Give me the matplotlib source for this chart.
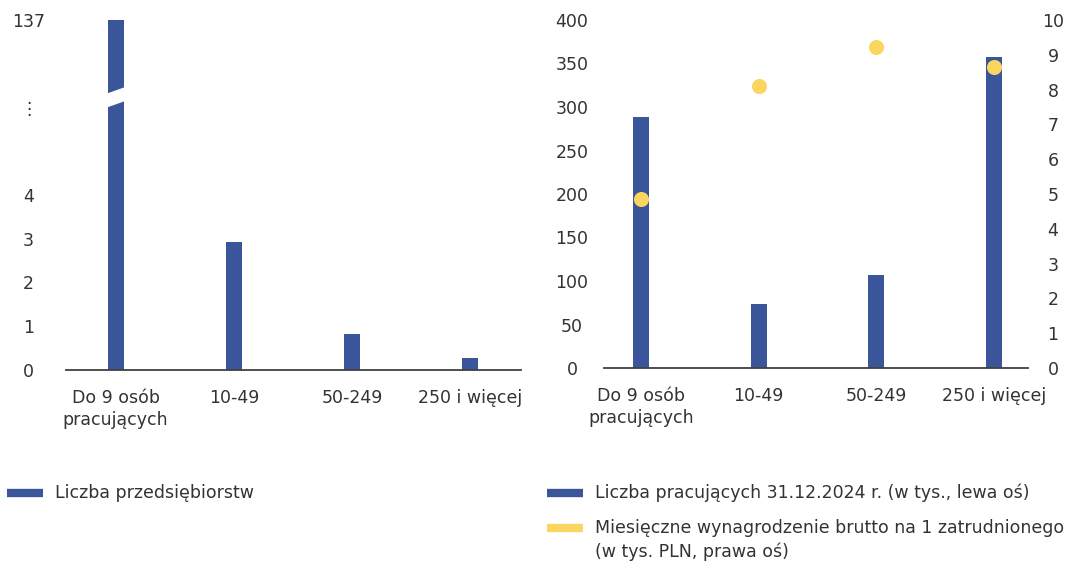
import numpy as np
import matplotlib
matplotlib.use("Agg")
import matplotlib.pyplot as plt
from matplotlib.lines import Line2D
from matplotlib.patches import Polygon

plt.rcParams['font.family'] = ['DejaVu Sans']
plt.rcParams['font.size'] = 12.5
plt.rcParams['text.color'] = '#333333'
plt.rcParams['xtick.color'] = '#333333'
plt.rcParams['ytick.color'] = '#333333'

# data
categories = ['Do 9 osób\npracujących', '10-49', '50-249', '250 i więcej']
firms = [137, 2.93, 0.83, 0.27]              # liczba przedsiębiorstw
employed = [289, 74, 107, 357]               # tys. osób, 31.12.2024
wages = [4.87, 8.10, 9.22, 8.65]             # tys. PLN brutto / miesiąc

left_ticks = [0, 1, 2, 3, 4, 49, 137]
left_ticklabels = ['0', '1', '2', '3', '4', '⋮', '137']
right_ticks = [0, 50, 100, 150, 200, 250, 300, 350, 400]
wage_ticks = list(range(0, 11))

BLUE = '#3a5599'
YELLOW = '#fad560'
AXIS = '#404040'
BAR_W = 0.136

# broken axis: linear up to 5, above that squeezed 44x
def fwd(v):
    v = np.asarray(v, dtype=float)
    return np.where(v <= 5, v, 5 + (v - 5) / 44.0)


def inv(u):
    u = np.asarray(u, dtype=float)
    return np.where(u <= 5, u, 5 + (u - 5) * 44.0)


W, H = 1080, 565
fig = plt.figure(figsize=(W / 100, H / 100), dpi=100)

def px_axes(x0, x1, y_top, y_bot):
    return fig.add_axes([x0 / W, (H - y_bot) / H, (x1 - x0) / W, (y_bot - y_top) / H])


def style_axes(ax):
    for s in ['top', 'right', 'left']:
        ax.spines[s].set_visible(False)
    ax.spines['bottom'].set_color(AXIS)
    ax.spines['bottom'].set_linewidth(1.3)
    ax.tick_params(axis='both', length=0)
    ax.tick_params(axis='x', pad=14)


x = np.arange(len(categories))

# left panel: number of enterprises
ax1 = px_axes(66, 521, 14, 370)
ax1.set_yscale('function', functions=(fwd, inv))
ax1.bar(x, firms, width=BAR_W, color=BLUE, zorder=2)
ax1.set_xlim(-0.42, 3.43)
ax1.set_ylim(0, float(inv(8.13)))
ax1.set_xticks(x, categories, linespacing=1.25)
ax1.set_yticks(left_ticks, left_ticklabels)
style_axes(ax1)
ax1.tick_params(axis='y', pad=27)
for lab in ax1.get_yticklabels():
    lab.set_horizontalalignment('center')

# white slanted gap marking the break in the first bar
hw = BAR_W / 2 + 0.02
slope = 0.13 / BAR_W
gap = [(-hw, 6.0 - 0.02 * slope), (hw, 6.13 + 0.02 * slope),
       (hw, 6.45 + 0.02 * slope), (-hw, 6.32 - 0.02 * slope)]
gap = [(gx, float(inv(gy))) for gx, gy in gap]
ax1.add_patch(Polygon(gap, closed=True, facecolor='white', edgecolor='none', zorder=3))

# right panel: employment (bars) and wages (dots)
ax2 = px_axes(604, 1028, 20, 368)
ax2.bar(x, employed, width=BAR_W, color=BLUE, zorder=2)
ax2.set_xlim(-0.315, 3.29)
ax2.set_ylim(0, 400)
ax2.set_xticks(x, categories, linespacing=1.25)
ax2.set_yticks(right_ticks)
style_axes(ax2)
ax2.tick_params(axis='y', pad=23)
for lab in ax2.get_yticklabels():
    lab.set_horizontalalignment('center')

ax3 = ax2.twinx()
ax3.scatter(x, wages, s=118, color=YELLOW, zorder=4, linewidths=0)
ax3.set_ylim(0, 10)
ax3.set_yticks(wage_ticks)
for s in ax3.spines.values():
    s.set_visible(False)
ax3.tick_params(axis='y', length=0, pad=18)
for lab in ax3.get_yticklabels():
    lab.set_horizontalalignment('center')

# legends
def legend_entry(x0, y, label, color):
    fig.add_artist(Line2D([x0 / W, (x0 + 36) / W], [(H - y) / H] * 2,
                          color=color, linewidth=6, solid_capstyle='butt'))
    fig.text((x0 + 48) / W, (H - y) / H, label, va='center', ha='left')


legend_entry(7, 493, 'Liczba przedsiębiorstw', BLUE)
legend_entry(547, 493, 'Liczba pracujących 31.12.2024 r. (w tys., lewa oś)', BLUE)
legend_entry(547, 528, 'Miesięczne wynagrodzenie brutto na 1 zatrudnionego', YELLOW)
fig.text(595 / W, (H - 552) / H, '(w tys. PLN, prawa oś)', va='center', ha='left')

fig.savefig('out.png', dpi=100, facecolor='white')
